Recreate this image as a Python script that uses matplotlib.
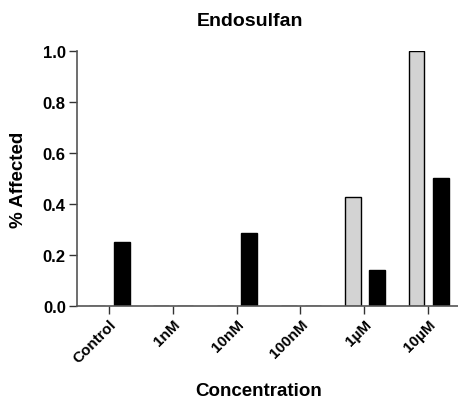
import numpy as np
import matplotlib
matplotlib.use('Agg')
import matplotlib.pyplot as plt

plt.rcParams['font.family'] = ['Liberation Sans', 'DejaVu Sans']
plt.rcParams['font.weight'] = 'bold'

categories = ['Control', '1nM', '10nM', '100nM', '1\u00b5M', '10\u00b5M']
grey_values = [0.0, 0.0, 0.0, 0.0, 0.4286, 1.0]
black_values = [0.25, 0.0, 0.2857, 0.0, 0.1429, 0.5]

fig = plt.figure(figsize=(4.58, 4.06), dpi=100)
ax = fig.add_axes([0.168, 0.244, 0.832, 0.628])

x = np.arange(len(categories))
w = 0.25
ax.bar(x - 0.18, grey_values, w, color='#d3d3d3', edgecolor='black', linewidth=1)
ax.bar(x + 0.2, black_values, w, color='black', edgecolor='black', linewidth=1)

ax.set_xlim(-0.5, 5.47)
ax.set_ylim(0, 1.0)
ax.set_xticks(x)
ax.set_xticklabels(categories, rotation=45, ha='right', rotation_mode='anchor', fontsize=11, fontweight='bold')
ax.set_yticks([0.0, 0.2, 0.4, 0.6, 0.8, 1.0])
ax.set_yticklabels(['0.0', '0.2', '0.4', '0.6', '0.8', '1.0'], fontsize=12, fontweight='bold')

for side in ['top', 'right']:
    ax.spines[side].set_visible(False)
for side in ['left', 'bottom']:
    ax.spines[side].set_color('#555555')
    ax.spines[side].set_linewidth(1.2)
ax.tick_params(axis='both', direction='out', length=6, width=1, color='#333333', pad=2)

fig.text(250 / 458, 1 - 22 / 406, 'Endosulfan', fontsize=14, fontweight='bold', ha='center', va='center')
ax.set_xlabel('Concentration', fontsize=13.5, fontweight='bold')
ax.xaxis.set_label_coords((259 - 77) / 381, -(392 - 307) / 255)
ax.xaxis.label.set_va('center')
ax.set_ylabel('% Affected', fontsize=13.5, fontweight='bold')
ax.yaxis.set_label_coords(-(77 - 19) / 381, 0.5)
ax.yaxis.label.set_va('center')

fig.savefig('out.png', dpi=100)
